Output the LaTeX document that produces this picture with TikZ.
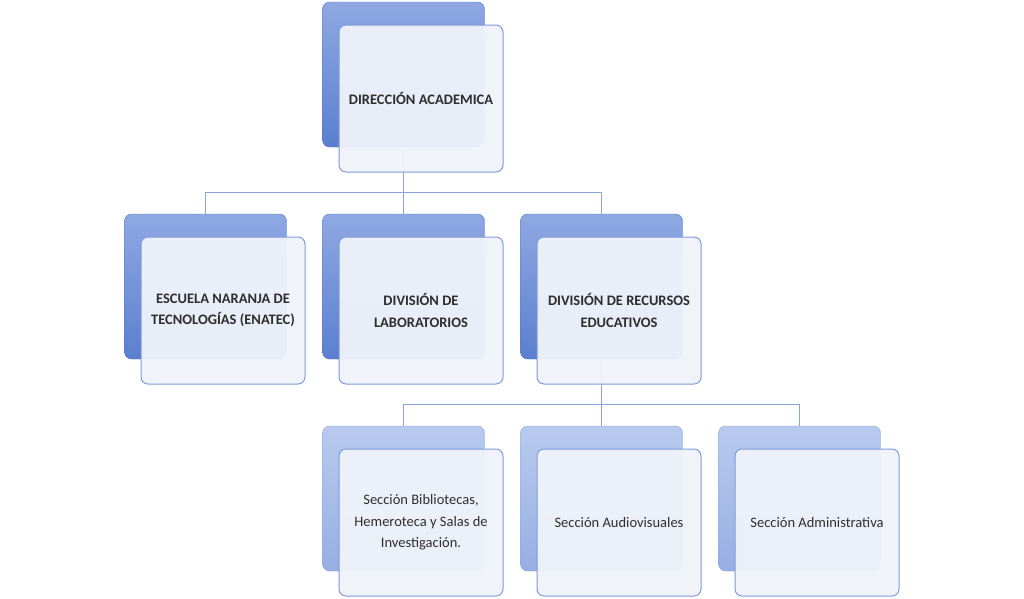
\documentclass[tikz,border=0pt]{standalone}
\usepackage{fontspec}
\setmainfont{Carlito}
\usetikzlibrary{positioning}
\definecolor{backtop}{HTML}{8EA8E2}
\definecolor{backbot}{HTML}{5B7FCF}
\definecolor{backline}{HTML}{5577C6}
\definecolor{lowtop}{HTML}{B8CAEE}
\definecolor{lowbot}{HTML}{96AEE2}
\definecolor{lowline}{HTML}{8CA6DE}
\definecolor{frontfill}{HTML}{F0F3FA}
\definecolor{frontline}{HTML}{7F9BDA}
\definecolor{linkblue}{HTML}{8AA4DD}
\definecolor{textgray}{HTML}{2E2E2E}

\begin{document}
\begin{tikzpicture}
[x=1pt,y=-1pt,
 every node/.style={rectangle,rounded corners=7pt,inner sep=0pt,outer sep=0pt},
 back/.style={draw=backline,top color=backtop,bottom color=backbot,minimum width=162pt,minimum height=145pt},
 backlow/.style={draw=lowline,top color=lowtop,bottom color=lowbot,minimum width=162pt,minimum height=145pt},
 front/.style={draw=frontline,line width=1pt,fill=frontfill,fill opacity=0.95,text opacity=1,text=textgray,
               minimum width=164pt,minimum height=147pt,align=center,font=\fontsize{14.5}{21.5}\selectfont},
 head/.style={font=\bfseries\fontsize{14.5}{21.5}\selectfont},
 link/.style={draw=linkblue,line width=1.6pt}]
\useasboundingbox (0,0) rectangle (1024,598);
\path[fill=white] (0,0) rectangle (1024,598);
\node[back]    (dirB) at (403.5,74.5) {};
\node[back]    (enaB) [on grid,below left=212pt and 198pt of dirB]  {};
\node[back]    (labB) [on grid,below=212pt of dirB]                 {};
\node[back]    (recB) [on grid,below right=212pt and 198pt of dirB] {};
\node[backlow] (bibB) [on grid,below left=212pt and 198pt of recB]  {};
\node[backlow] (audB) [on grid,below=212pt of recB]                 {};
\node[backlow] (admB) [on grid,below right=212pt and 198pt of recB] {};
\path[link] (enaB.north) -- ++(0,-21.5) -| (dirB.south);
\path[link] (labB.north) -- (dirB.south);
\path[link] (recB.north) -- ++(0,-21.5) -| (dirB.south);
\path[link] (bibB.north) -- ++(0,-21.5) -| (recB.south);
\path[link] (audB.north) -- (recB.south);
\path[link] (admB.north) -- ++(0,-21.5) -| (recB.south);
\node[front,head] (dirF) [on grid,below right=24pt and 17.5pt of dirB] {DIRECCIÓN ACADEMICA};
\node[front,head] (enaF) [on grid,below right=24pt and 17.5pt of enaB] {ESCUELA NARANJA DE\\TECNOLOGÍAS (ENATEC)};
\node[front,head] (labF) [on grid,below right=24pt and 17.5pt of labB] {DIVISIÓN DE\\LABORATORIOS};
\node[front,head] (recF) [on grid,below right=24pt and 17.5pt of recB] {DIVISIÓN DE RECURSOS\\EDUCATIVOS};
\node[front]      (bibF) [on grid,below right=24pt and 17.5pt of bibB] {Sección Bibliotecas,\\Hemeroteca y Salas de\\Investigación.};
\node[front]      (audF) [on grid,below right=24pt and 17.5pt of audB] {Sección Audiovisuales};
\node[front]      (admF) [on grid,below right=24pt and 17.5pt of admB] {Sección Administrativa};
\end{tikzpicture}
\end{document}
